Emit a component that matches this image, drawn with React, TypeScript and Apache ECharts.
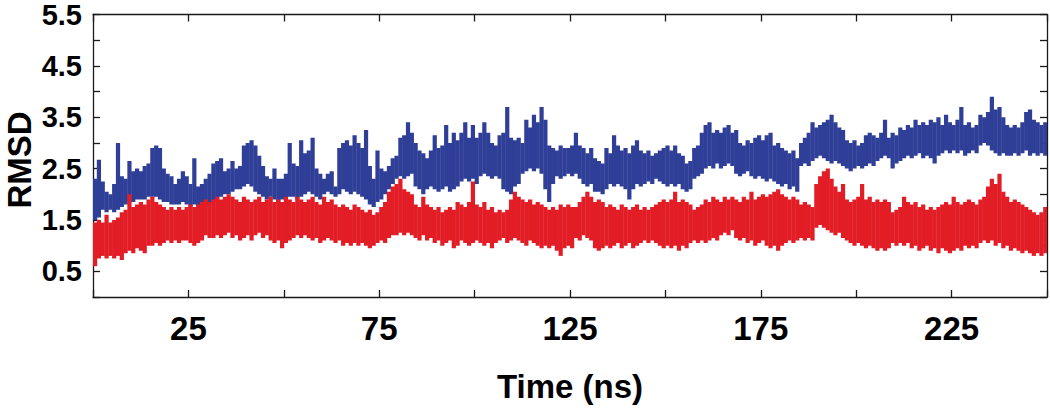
import React, { useEffect, useRef } from "react";
import * as echarts from "echarts";

// RMSD envelopes, one value per ns (t = 0 … 249)
const blueHigh = [
  2.3, 2.67, 2.25, 2.05, 2.0, 2.2, 3.0, 2.35, 2.3, 2.65, 2.45, 2.5, 2.45, 2.55, 2.6, 2.9, 2.95, 2.9, 2.5, 2.4, 2.35, 2.2, 2.3, 2.45, 2.35, 2.2, 2.7, 2.15, 2.2, 2.3, 2.4, 2.6, 2.65, 2.7, 2.45, 2.5, 2.65, 2.5, 2.55, 2.95, 3.0, 3.05,
  2.95, 2.75, 2.55, 2.35, 2.3, 2.5, 2.3, 2.3, 2.4, 3.0, 2.6, 2.55, 3.05, 2.8, 2.85, 3.1, 2.5, 2.4, 2.3, 2.4, 2.45, 2.15, 2.9, 3.0, 3.05, 2.95, 3.15, 3.0, 2.9, 3.25, 2.55, 2.3, 2.85, 2.5, 2.45, 2.55, 2.7, 2.75, 3.1, 3.15, 3.4, 3.2,
  3.0, 2.85, 2.8, 2.7, 2.85, 3.15, 2.9, 2.95, 3.35, 3.0, 3.2, 3.05, 3.2, 3.4, 3.1, 3.35, 3.1, 3.2, 3.4, 3.2, 3.0, 2.95, 3.15, 3.2, 3.7, 3.1, 3.05, 3.1, 3.0, 3.45, 3.3, 3.55, 3.4, 3.7, 3.45, 2.95, 2.9, 2.85, 2.95, 2.9, 2.9, 2.95,
  3.2, 2.95, 2.9, 2.8, 2.9, 2.7, 2.65, 2.6, 2.9, 2.8, 3.15, 2.95, 2.85, 2.9, 2.8, 2.95, 3.05, 2.85, 2.8, 2.85, 2.75, 2.8, 2.85, 2.9, 2.95, 2.85, 2.95, 2.8, 2.75, 2.6, 2.65, 2.9, 2.95, 3.2, 3.35, 3.4, 3.2, 3.25, 3.2, 3.3, 3.35, 3.2,
  3.25, 3.0, 2.95, 3.05, 3.0, 3.1, 3.15, 3.05, 3.15, 3.2, 2.95, 3.0, 2.9, 2.85, 2.8, 2.85, 2.7, 3.0, 3.1, 3.2, 3.4, 3.3, 3.35, 3.4, 3.45, 3.55, 3.4, 3.3, 3.25, 3.05, 3.0, 3.05, 2.95, 3.0, 3.15, 3.2, 3.15, 3.1, 3.2, 3.45, 3.1,
  3.2, 3.15, 3.3, 3.25, 3.35, 3.3, 3.45, 3.35, 3.4, 3.35, 3.45, 3.4, 3.5, 3.35, 3.55, 3.4, 3.35, 3.45, 3.7, 3.35, 3.4, 3.3, 3.35, 3.55, 3.5, 3.6, 3.9, 3.65, 3.7, 3.5, 3.35, 3.3, 3.35, 3.3, 3.4, 3.6, 3.65, 3.45, 3.4, 3.35, 3.4,
];
const blueLow = [
  1.5, 1.55, 1.7, 1.65, 1.7, 1.65, 1.7, 1.75, 1.8, 1.85, 1.85, 1.9, 1.9, 1.9, 1.95, 1.95, 1.95, 1.9, 1.85, 1.85, 1.8, 1.8, 1.8, 1.85, 1.8, 1.75, 1.8, 1.75, 1.7, 1.75, 1.8, 1.85, 1.9, 1.95, 2.0, 2.0, 2.05, 2.1, 2.1, 2.15, 2.2, 2.15,
  2.05, 2.0, 1.95, 1.9, 1.95, 1.9, 1.85, 1.9, 1.9, 1.95, 1.95, 1.9, 1.95, 2.0, 2.05, 2.0, 1.95, 1.9, 2.0, 2.05, 2.0, 1.95, 2.0, 2.1, 2.05, 2.0, 2.05, 2.0, 1.95, 1.9, 1.8, 1.75, 1.85, 1.9, 2.0, 2.1, 2.2, 2.3, 2.35, 2.3, 2.35, 2.4,
  2.15, 2.1, 2.0, 2.1, 2.15, 2.1, 2.05, 2.1, 2.15, 2.05, 2.1, 2.15, 2.25, 2.3, 2.25, 2.3, 2.2, 2.35, 2.4, 2.35, 2.3, 2.35, 2.3, 2.1, 2.05, 2.0, 2.15, 2.2, 2.4, 2.45, 2.5, 2.45, 2.5, 2.4, 2.1, 1.85, 2.2, 2.35, 2.3, 2.35, 2.4, 2.35,
  2.4, 2.3, 2.2, 2.15, 2.2, 2.05, 2.05, 2.0, 2.1, 2.2, 2.15, 2.2, 2.15, 2.1, 1.9, 2.1, 2.2, 2.15, 2.2, 2.25, 2.2, 2.3, 2.25, 2.2, 2.15, 2.2, 2.15, 2.2, 2.1, 2.05, 2.1, 2.3, 2.35, 2.4, 2.5, 2.55, 2.5, 2.6, 2.5, 2.55, 2.6, 2.55,
  2.4, 2.35, 2.4, 2.45, 2.35, 2.3, 2.35, 2.3, 2.25, 2.3, 2.25, 2.2, 2.15, 2.2, 2.1, 2.15, 2.05, 2.55, 2.6, 2.55, 2.65, 2.7, 2.75, 2.7, 2.65, 2.6, 2.65, 2.6, 2.55, 2.5, 2.45, 2.5, 2.55, 2.5, 2.55, 2.6, 2.55, 2.65, 2.7, 2.75, 2.7,
  2.5, 2.6, 2.65, 2.7, 2.75, 2.7, 2.75, 2.8, 2.7, 2.75, 2.7, 2.6, 2.75, 2.8, 2.85, 2.8, 2.85, 2.8, 2.85, 2.75, 2.8, 2.85, 2.8, 2.95, 3.0, 2.95, 2.85, 2.8, 2.75, 2.8, 2.75, 2.75, 2.8, 2.75, 2.8, 2.85, 2.75, 2.8, 2.75, 2.8, 2.75,
];
const redHigh = [
  1.45, 1.5, 1.45, 1.6, 1.45, 1.5, 1.55, 1.65, 1.7, 2.0, 1.75, 1.8, 1.85, 1.8, 1.9, 1.95, 1.85, 1.8, 1.75, 1.7, 1.75, 1.7, 1.75, 1.7, 1.75, 1.8, 1.75, 1.8, 1.85, 1.9, 1.85, 1.9, 1.95, 1.9, 1.95, 2.0, 1.95, 1.9, 1.85, 1.95, 1.9, 1.85,
  1.9, 1.95, 1.85, 1.9, 1.95, 1.85, 1.9, 1.85, 1.95, 1.9, 1.85, 1.95, 1.9, 1.85, 1.9, 1.95, 1.85, 1.8, 1.95, 1.85, 1.9, 1.8, 1.75, 1.8, 1.75, 1.7, 1.8, 1.75, 1.7, 1.65, 1.7, 1.6, 1.65, 1.75, 1.85, 2.05, 2.15, 2.2, 2.3, 2.1, 2.05, 2.0,
  1.8, 1.75, 1.95, 1.8, 1.75, 1.7, 1.75, 1.65, 1.7, 1.75, 1.7, 1.85, 1.8, 1.75, 1.85, 2.25, 1.8, 1.75, 1.85, 1.7, 1.75, 1.65, 1.7, 1.65, 1.7, 1.9, 2.05, 1.95, 1.9, 1.85, 1.9, 1.8, 1.85, 1.8, 1.75, 1.7, 1.75, 1.7, 1.8, 1.75, 1.8, 1.75,
  1.75, 1.85, 1.95, 2.05, 1.95, 1.85, 1.9, 1.85, 1.75, 1.8, 1.75, 1.7, 1.8, 1.75, 1.7, 1.75, 1.8, 1.7, 1.75, 1.7, 1.75, 1.8, 1.85, 1.9, 1.85, 1.9, 2.05, 1.85, 1.9, 1.85, 1.8, 1.7, 1.75, 1.8, 1.9, 1.85, 1.95, 1.9, 1.85, 1.95, 1.9, 1.95,
  1.9, 1.85, 1.95, 1.9, 2.05, 1.9, 1.95, 2.0, 1.95, 2.0, 2.05, 2.1, 2.0, 1.95, 1.9, 1.95, 1.9, 1.8, 1.85, 1.8, 1.75, 2.2, 2.35, 2.45, 2.5, 2.3, 2.15, 2.05, 2.2, 1.9, 1.85, 1.9, 1.95, 2.2, 1.9, 1.95, 1.85, 1.9, 1.85, 1.9, 1.85,
  1.65, 1.7, 1.75, 1.95, 1.85, 1.8, 1.85, 1.75, 1.8, 1.7, 1.75, 1.7, 1.75, 1.8, 1.85, 1.8, 1.95, 1.85, 1.8, 1.85, 1.9, 1.85, 1.8, 1.9, 1.95, 2.15, 2.3, 2.2, 2.4, 2.05, 1.95, 1.85, 1.9, 1.85, 1.8, 1.75, 1.7, 1.65, 1.6, 1.65, 1.75,
];
const redLow = [
  0.6, 0.75, 0.8, 0.75, 0.8, 0.75, 0.8, 0.72, 0.85, 0.9, 0.85, 0.95, 0.9, 0.85, 1.0, 1.0, 1.05, 1.0, 1.05, 1.1, 1.05, 1.1, 1.05, 1.1, 1.1, 1.05, 1.0, 1.05, 1.1, 1.2, 1.15, 1.15, 1.2, 1.15, 1.2, 1.25, 1.15, 1.2, 1.1, 1.15, 1.2, 1.1,
  1.2, 1.25, 1.15, 1.2, 1.1, 1.05, 1.1, 0.95, 1.05, 1.1, 1.15, 1.2, 1.15, 1.2, 1.15, 1.1, 1.15, 1.05, 1.1, 1.15, 1.1, 1.05, 1.1, 1.0, 1.05, 1.0, 1.05, 1.0, 1.05, 1.0, 0.95, 1.0, 1.05, 1.1, 1.05, 1.15, 1.2, 1.2, 1.25, 1.2, 1.25, 1.2,
  1.15, 1.1, 1.2, 1.1, 1.15, 1.05, 1.1, 1.0, 1.05, 1.1, 0.95, 1.0, 1.1, 1.05, 1.0, 1.05, 1.1, 1.05, 1.0, 1.05, 0.95, 1.05, 1.1, 1.15, 1.05, 1.1, 1.15, 1.1, 1.05, 1.0, 1.1, 1.05, 1.0, 0.95, 1.0, 0.95, 1.0, 0.9, 0.8, 0.95, 1.0, 0.95,
  1.15, 1.1, 1.2, 1.15, 1.1, 0.95, 0.9, 0.95, 1.0, 0.95, 1.0, 1.05, 0.95, 1.0, 1.05, 0.95, 1.0, 1.05, 1.1, 1.05, 1.1, 1.05, 1.0, 0.95, 1.0, 0.95, 1.0, 0.9, 1.0, 0.95, 1.05, 1.1, 1.05, 1.1, 1.05, 1.1, 1.15, 1.1, 1.2, 1.25, 1.2, 1.3,
  1.15, 1.1, 1.15, 1.05, 1.1, 1.0, 1.05, 1.1, 1.0, 0.95, 1.0, 0.9, 1.0, 1.05, 1.1, 1.05, 1.1, 1.15, 1.1, 1.15, 1.1, 1.35, 1.4, 1.35, 1.3, 1.25, 1.2, 1.25, 1.15, 1.1, 1.05, 1.0, 1.05, 1.0, 0.95, 1.0, 0.95, 0.9, 0.95, 0.9, 0.95,
  1.05, 1.0, 1.05, 1.0, 1.05, 0.95, 1.0, 0.9, 0.95, 1.0, 0.9, 0.95, 0.85, 0.95, 0.9, 0.85, 0.9, 0.95, 0.9, 1.0, 0.95, 1.0, 0.95, 1.05, 1.1, 1.05, 1.1, 1.0, 1.05, 0.95, 1.0, 0.9, 0.95, 0.9, 0.85, 0.9, 0.85, 0.8, 0.85, 0.8, 0.85,
];

const xLabelValues = [25, 75, 125, 175, 225];
const yLabelValues = [0.5, 1.5, 2.5, 3.5, 4.5, 5.5];

const BLUE = "#2f3f98";
const RED = "#e21d26";
const FONT = "Liberation Sans";

const bandRender = (color: string) => (params: any, api: any) => {
  const t = api.value(0);
  const lo = api.value(1);
  const hi = api.value(2);
  const a = api.coord([t, hi]);
  const b = api.coord([t + 1, lo]);
  return {
    type: "rect",
    shape: { x: a[0], y: a[1], width: b[0] - a[0] + 0.4, height: b[1] - a[1] },
    style: { fill: color },
  };
};

export default function App() {
  const ref = useRef<HTMLDivElement>(null);
  useEffect(() => {
    if (!ref.current) return;
    const chart = echarts.init(ref.current, null, { renderer: "svg" });
    const blueData = blueHigh.map((h, i) => [i, blueLow[i], h]);
    const redData = redHigh.map((h, i) => [i, redLow[i], h]);
    const axisLine = () => ({ show: true, onZero: false, lineStyle: { color: "#1a1a1a", width: 1.3 } });
    const tick = () => ({ show: true, inside: true, length: 7, lineStyle: { color: "#1a1a1a", width: 1.3 } });
    chart.setOption({
      animation: false,
      backgroundColor: "#ffffff",
      grid: { left: 93, top: 11, width: 954, height: 286, containLabel: false },
      xAxis: [
        {
          type: "value", min: 0, max: 250, interval: 25, position: "bottom",
          axisLine: axisLine(), axisTick: tick(), splitLine: { show: false },
          axisLabel: {
            margin: 15, color: "#000", fontSize: 33, fontWeight: "bold", fontFamily: FONT,
            formatter: (v: number) => (xLabelValues.includes(v) ? String(v) : ""),
          },
        },
        {
          type: "value", min: 0, max: 250, interval: 25, position: "top",
          axisLine: axisLine(), axisTick: tick(), splitLine: { show: false }, axisLabel: { show: false },
        },
      ],
      yAxis: [
        {
          type: "value", min: 0, max: 5.5, interval: 0.5, position: "left",
          axisLine: axisLine(), axisTick: tick(), splitLine: { show: false },
          axisLabel: {
            margin: 11, color: "#000", fontSize: 29, fontWeight: "bold", fontFamily: FONT,
            formatter: (v: number) =>
              yLabelValues.some((y) => Math.abs(y - v) < 1e-6) ? v.toFixed(1) : "",
          },
        },
        {
          type: "value", min: 0, max: 5.5, interval: 0.5, position: "right",
          axisLine: axisLine(), axisTick: tick(), splitLine: { show: false }, axisLabel: { show: false },
        },
      ],
      graphic: [
        {
          type: "text", x: 19, y: 160, rotation: Math.PI / 2,
          style: { text: "RMSD", fontSize: 33, fontWeight: "bold", fontFamily: FONT, fill: "#000", align: "center", verticalAlign: "middle" },
        },
        {
          type: "text", x: 570, y: 386,
          style: { text: "Time (ns)", fontSize: 33, fontWeight: "bold", fontFamily: FONT, fill: "#000", align: "center", verticalAlign: "middle" },
        },
      ],
      series: [
        {
          type: "custom", name: "blue", data: blueData, clip: true,
          encode: { x: 0, y: [1, 2] }, renderItem: bandRender(BLUE),
        },
        {
          type: "custom", name: "red", data: redData, clip: true,
          encode: { x: 0, y: [1, 2] }, renderItem: bandRender(RED),
        },
      ],
    });
    return () => chart.dispose();
  }, []);
  return (
    <div
      ref={ref}
      style={{ position: "absolute", left: 0, top: 0, width: 1050, height: 410, background: "#fff" }}
    />
  );
}
